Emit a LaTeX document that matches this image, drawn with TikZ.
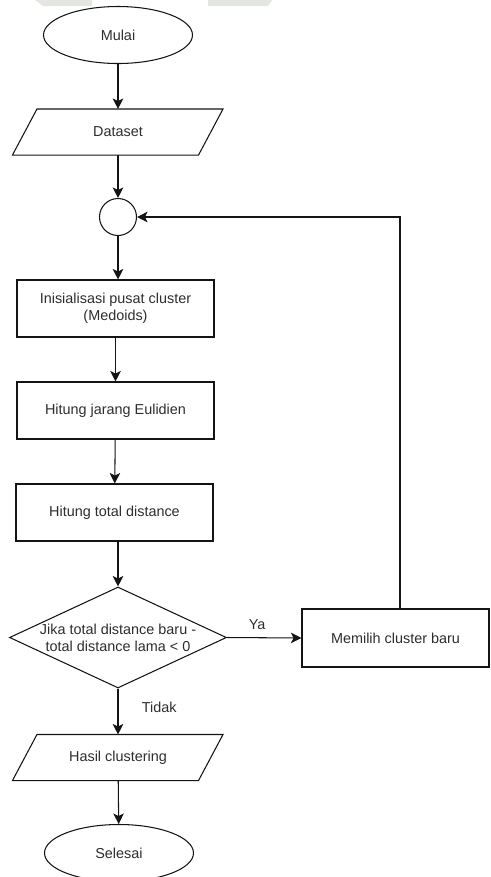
\documentclass[tikz,border=0pt]{standalone}
\usepackage{fontspec}
\setmainfont{Liberation Sans}
\usepackage{tikz}
\usetikzlibrary{shapes.geometric, arrows.meta, positioning, calc}
\definecolor{lineblack}{RGB}{20, 20, 20}
\definecolor{textgrey}{RGB}{45, 45, 45}
\definecolor{markgrey}{RGB}{228, 230, 226}

\tikzset{
  base/.style={draw=lineblack, line width=0.6pt, text=textgrey, font=\fontsize{8.2}{9.6}\selectfont, inner sep=0pt, align=center},
  term/.style={base, ellipse, minimum width=2.98cm, minimum height=1.14cm},
  io/.style={base, draw=none, rectangle, minimum width=3.7cm, minimum height=0.9cm},
  proc/.style={base, rectangle, minimum width=3.94cm, minimum height=1.14cm},
  decide/.style={base, diamond, minimum width=4.34cm, minimum height=2.02cm, aspect=2.15},
  joint/.style={base, circle, minimum size=0.74cm},
  arr/.style={draw=lineblack, line width=0.6pt, -{Stealth[length=6pt, width=6pt, inset=1.5pt]}},
  lbl/.style={text=textgrey, font=\fontsize{8.2}{9.6}\selectfont}
}

\begin{document}
\begin{tikzpicture}
  \useasboundingbox (0,0) rectangle (9.8,-17.54);

  % Watermark remains at the top
  \fill[markgrey] (0.70,0) -- (1.84,0) -- (1.84,-0.12) -- (0.86,-0.12) -- cycle;
  \fill[markgrey] (4.16,0) -- (5.44,0) -- (5.36,-0.12) -- (4.16,-0.12) -- cycle;

  % Main column
  \node[term] (start) at (2.36,-0.70) {Mulai};
  \node[io] (data) at (2.36,-2.64) {Dataset};
  \node[joint] (join) at (2.36,-4.34) {};
  \node[proc] (init) at (2.31,-6.17) {Inisialisasi pusat cluster\\(Medoids)};
  \node[proc] (euc) at (2.31,-8.21) {Hitung jarang Eulidien};
  \node[proc] (total) at (2.29,-10.25) {Hitung total distance};
  \node[decide] (cond) at (2.36,-12.75) {Jika total distance baru -\\total distance lama < 0};
  \node[io] (res) at (2.36,-15.15) {Hasil clustering};
  \node[term] (stop) at (2.38,-17.06) {Selesai};

  % Slanted outlines of the data nodes
  \foreach \n in {data,res} {
    \draw[lineblack, line width=0.6pt] ([xshift=-0.25cm]\n.south west) -- ([xshift=-0.25cm]\n.south east)
      -- ([xshift=0.24cm]\n.north east) -- ([xshift=0.24cm]\n.north west) -- cycle;
  }

  % Loop branch
  \node[proc, minimum width=3.74cm, minimum height=1.16cm] (new) at (7.91,-12.76) {Memilih cluster baru};

  % Connectors
  \draw[arr] (start) -- (data);
  \draw[arr] (data) -- (join);
  \draw[arr] (join.south) -- (join.south |- init.north);
  \draw[arr] (init) -- (euc);
  \draw[arr] (euc) -- (total);
  \draw[arr] (total.south -| cond.north) -- (cond.north);
  \draw[arr] (cond.east) -- (new.west) node[lbl, midway, above=1pt, xshift=-4pt] {Ya};
  \draw[arr] (cond.south) -- (res.north) node[lbl, pos=0.42, right=10pt] {Tidak};
  \draw[arr] (res) -- (stop);
  \draw[arr] ([xshift=0.09cm]new.north) |- (join.east);
\end{tikzpicture}
\end{document}
